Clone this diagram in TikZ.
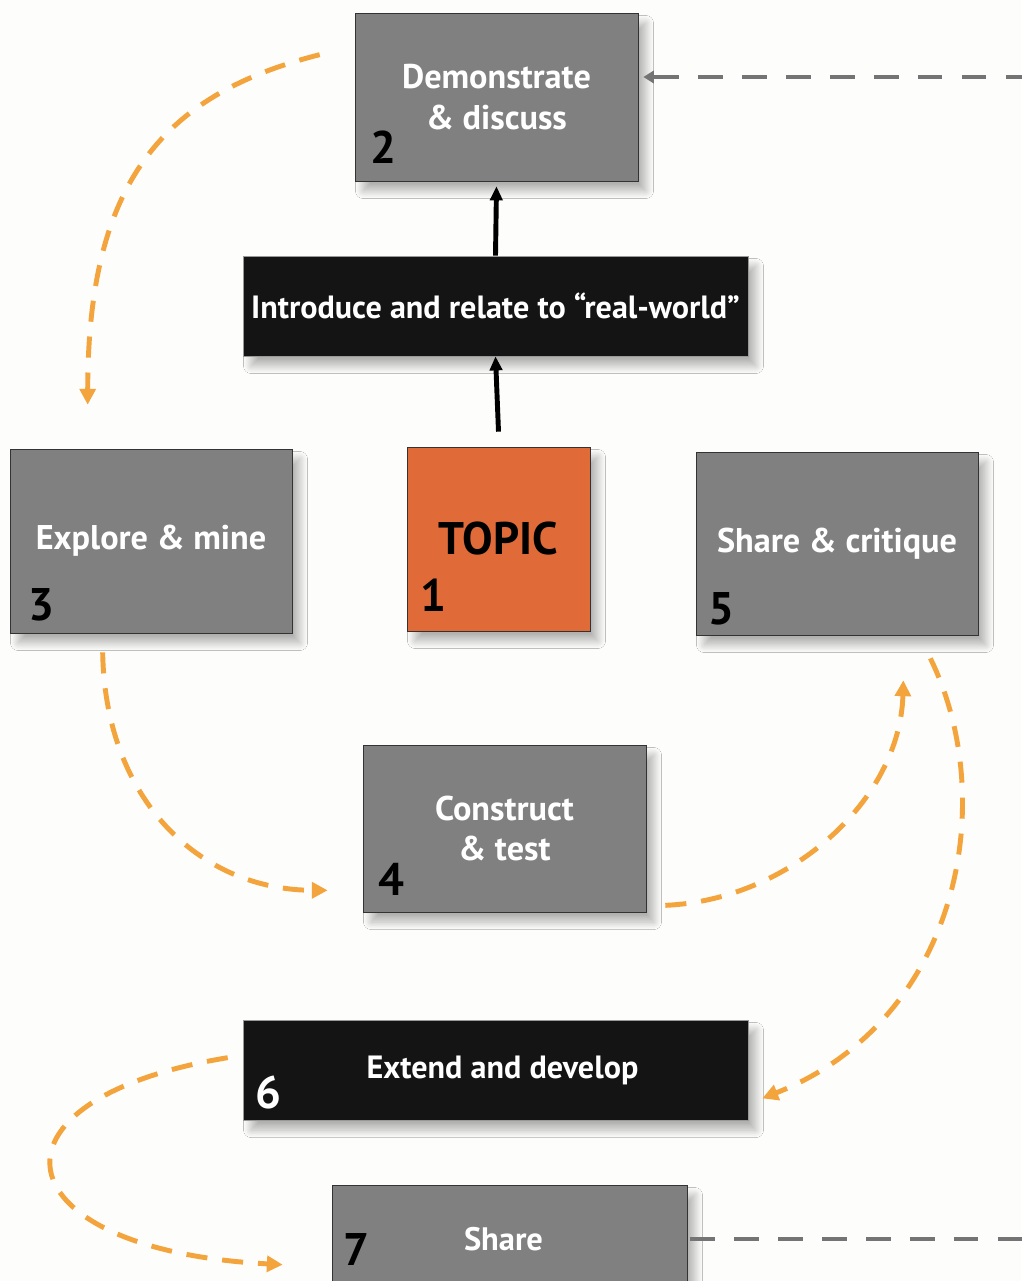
\documentclass[tikz,border=0pt]{standalone}
\usepackage{fontspec}
\setmainfont{PT Sans}
\usetikzlibrary{positioning,arrows.meta,shadows.blur}

\definecolor{boxgray}{HTML}{808080}
\definecolor{topicorange}{HTML}{E06A38}
\definecolor{flow}{HTML}{F3A43C}
\definecolor{loopgray}{HTML}{747474}
\definecolor{paper}{HTML}{FDFDFB}

\tikzset{
	stage/.style={draw=black!80,fill=boxgray,text=white,align=center,
		font=\bfseries\fontsize{19.5}{23}\selectfont,
		blur shadow={shadow xshift=0.16cm,shadow yshift=-0.2cm,shadow blur radius=0.15cm,shadow blur steps=20,shadow opacity=30}},
	bar/.style={stage,draw=black!40,fill=black!92,font=\bfseries\fontsize{18.3}{22}\selectfont},
	num/.style={inner sep=0pt,anchor=base west,font=\bfseries\fontsize{26}{26}\selectfont},
	flowline/.style={flow,line width=2.8pt,dash pattern=on 12pt off 8.5pt,-{Triangle[length=9pt,width=9pt]}},
	loopline/.style={loopgray,line width=1.9pt,dash pattern=on 14pt off 11pt},
	lift/.style={black,line width=2.8pt,-{Triangle[length=8pt,width=7pt]}}
}

\begin{document}
\begin{tikzpicture}[x=0.02cm,y=-0.02cm]

	% Page
	\useasboundingbox[fill=paper] (0,0) rectangle (1021,1281);

	% Stages
	\node[stage,minimum width=5.66cm,minimum height=3.36cm] (demo) at (496.5,97) {Demonstrate\\\& discuss};
	\node[bar,minimum width=10.1cm,minimum height=2cm] (intro) at (495.5,306) {Introduce and relate to “real-world”};
	\node[stage,fill=topicorange,text=black,minimum width=3.66cm,minimum height=3.68cm,
		font=\bfseries\fontsize{26}{26}\selectfont] (topic) at (498.5,539) {TOPIC};
	\node[stage,minimum width=5.64cm,minimum height=3.68cm] (explore) at (151,541) {Explore \& mine};
	\node[stage,minimum width=5.64cm,minimum height=3.66cm] (critique) at (837,543.5) {Share \& critique};
	\node[stage,minimum width=5.66cm,minimum height=3.34cm] (construct) at (504.5,828.5) {Construct\\\& test};
	\node[bar,minimum width=10.1cm,minimum height=2cm] (extend) at (495.5,1070) {\hspace*{0.28cm}Extend and develop};
	\node[stage,minimum width=7.1cm,minimum height=2.16cm,font=\bfseries\fontsize{18.5}{22}\selectfont] (share) at (509.5,1239) {\hspace*{-0.24cm}Share};

	% Step numbers
	\node[num] (n1) at ([shift={(13,-20)}]topic.south west) {1};
	\node[num] (n2) at ([shift={(15,-18)}]demo.south west) {2};
	\node[num] (n3) at ([shift={(18,-13)}]explore.south west) {3};
	\node[num] (n4) at ([shift={(15,-17)}]construct.south west) {4};
	\node[num] (n5) at ([shift={(12,-11)}]critique.south west) {5};
	\node[num,text=white] (n6) at ([shift={(12,-12)}]extend.south west) {6};
	\node[num] (n7) at ([shift={(11,81)}]share.north west) {7};

	% Way up from the topic
	\draw[lift] ([yshift=0.3cm]topic.north) -- (intro.south);
	\draw[lift] (intro.north) -- ([yshift=-0.1cm]demo.south);

	% Flow between the stages
	\draw[flowline] ([shift={(-35,42)}]demo.north west) .. controls (160,95) and (88,185) .. ([shift={(78,-44)}]explore.north west);
	\draw[flowline] ([shift={(93,19)}]explore.south west) .. controls (105,800) and (200,890) .. ([shift={(-35,-22)}]construct.south west);
	\draw[flowline] ([shift={(19,-7)}]construct.south east) .. controls (790,900) and (900,800) .. ([shift={(-75,45)}]critique.south east);
	\draw[flowline] ([shift={(-48,23)}]critique.south east) .. controls (1000,800) and (960,1020) .. ([shift={(14,-22)}]extend.south east);
	\draw[flowline] ([shift={(-15,38)}]extend.north west) .. controls (-30,1100) and (0,1250) .. ([shift={(-49,80)}]share.north west);

	% Loop back to the start
	\coordinate (back) at (1026,77);
	\draw[loopline,-{Triangle[length=6pt,width=7pt]}] ([xshift=0.06cm]share.east) -| (back) -- ([shift={(5,-20)}]demo.east);

\end{tikzpicture}
\end{document}
